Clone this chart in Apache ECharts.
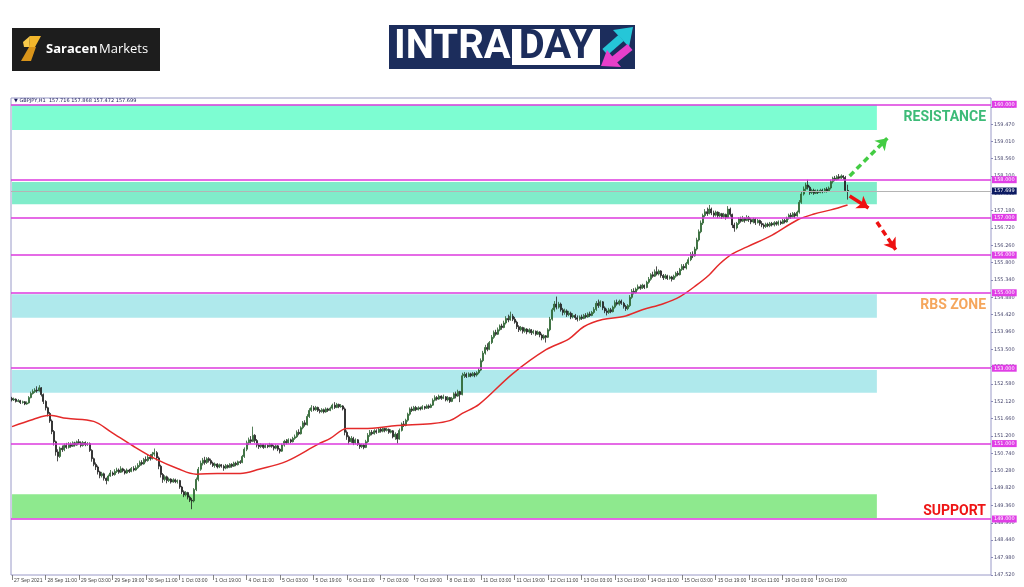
<!DOCTYPE html>
<html><head><meta charset="utf-8">
<script src="https://cdn.jsdelivr.net/npm/echarts@6.0.0/dist/echarts.min.js"></script>
<style>html,body{margin:0;padding:0;background:#fff}#c{width:1024px;height:587px}</style>
</head><body><div id="c"></div>
<script>
// ---------- DATA ----------
const headerText = '\u25BC GBPJPY,H1  157.716 157.868 157.472 157.699';
const firstOpen = 152.20;
// hourly candles: [close, low, high]; open = previous close
const candleCLH = [
[152.16,152.12,152.24],[152.18,152.13,152.22],[152.12,152.09,152.20],[152.14,152.10,152.18],[152.09,152.05,152.16],[152.11,152.06,152.14],[152.05,152.02,152.13],[152.08,152.03,152.12],[152.22,152.06,152.26],[152.33,152.20,152.38],
[152.38,152.30,152.44],[152.42,152.34,152.47],[152.40,152.35,152.52],[152.48,152.38,152.55],[152.30,152.25,152.50],[152.12,152.05,152.33],[151.95,151.88,152.15],[151.80,151.72,151.98],[151.60,151.55,151.84],[151.32,151.25,151.64],
[151.05,150.95,151.36],[150.78,150.68,151.08],[150.66,150.53,150.85],[150.88,150.62,150.92],[150.84,150.78,150.95],[150.95,150.80,151.00],[150.90,150.86,151.02],[150.98,150.87,151.04],[150.93,150.89,151.03],[151.02,150.91,151.06],
[150.96,150.92,151.05],[151.05,150.94,151.08],[151.02,150.98,151.12],[150.95,150.90,151.06],[151.03,150.92,151.07],[150.97,150.93,151.06],[151.00,150.94,151.04],[150.82,150.78,151.03],[150.60,150.52,150.85],[150.45,150.40,150.63],
[150.38,150.30,150.50],[150.25,150.18,150.42],[150.15,150.08,150.28],[150.20,150.10,150.25],[150.08,150.02,150.23],[150.02,149.92,150.10],[150.14,150.00,150.18],[150.22,150.12,150.30],[150.18,150.14,150.26],[150.26,150.15,150.32],
[150.30,150.22,150.36],[150.24,150.20,150.34],[150.33,150.22,150.40],[150.28,150.24,150.36],[150.22,150.18,150.32],[150.30,150.20,150.34],[150.26,150.22,150.33],[150.34,150.24,150.38],[150.30,150.26,150.40],[150.36,150.28,150.42],
[150.42,150.33,150.48],[150.50,150.38,150.55],[150.46,150.42,150.56],[150.58,150.44,150.62],[150.55,150.50,150.66],[150.64,150.52,150.70],[150.60,150.55,150.72],[150.72,150.58,150.78],[150.76,150.66,150.87],[150.62,150.55,150.80],
[150.40,150.32,150.66],[150.18,150.10,150.44],[150.05,149.96,150.22],[150.12,150.00,150.16],[150.02,149.95,150.15],[150.06,149.98,150.10],[149.98,149.94,150.08],[150.04,149.96,150.08],[149.99,149.95,150.07],[150.02,149.94,150.05],
[149.85,149.80,150.04],[149.72,149.66,149.88],[149.64,149.58,149.76],[149.70,149.60,149.74],[149.58,149.52,149.72],[149.50,149.45,149.62],[149.48,149.26,149.56],[149.78,149.44,149.82],[150.05,149.74,150.10],[150.32,150.00,150.38],
[150.48,150.28,150.55],[150.56,150.42,150.62],[150.50,150.44,150.65],[150.60,150.46,150.64],[150.55,150.50,150.64],[150.48,150.44,150.60],[150.42,150.38,150.52],[150.46,150.36,150.50],[150.38,150.34,150.48],[150.44,150.35,150.47],
[150.40,150.36,150.46],[150.35,150.28,150.44],[150.42,150.32,150.46],[150.37,150.34,150.45],[150.45,150.35,150.48],[150.40,150.36,150.48],[150.48,150.38,150.52],[150.44,150.40,150.52],[150.52,150.42,150.55],[150.50,150.46,150.56],
[150.66,150.48,150.70],[150.85,150.62,150.90],[151.02,150.80,151.08],[151.10,150.96,151.16],[151.06,151.00,151.20],[151.22,151.04,151.45],[151.08,151.02,151.25],[150.96,150.90,151.12],[150.92,150.86,151.00],[150.97,150.88,151.01],
[150.90,150.86,150.99],[150.95,150.88,150.99],[150.92,150.88,150.98],[150.98,150.90,151.02],[150.93,150.89,151.00],[150.88,150.82,150.96],[150.94,150.85,150.98],[150.85,150.80,150.96],[150.80,150.74,150.88],[150.96,150.78,151.00],
[151.06,150.92,151.10],[151.02,150.98,151.12],[151.10,151.00,151.14],[151.05,151.01,151.13],[151.14,151.03,151.18],[151.18,151.10,151.24],[151.30,151.15,151.35],[151.26,151.22,151.38],[151.42,151.24,151.46],[151.55,151.38,151.60],
[151.50,151.45,151.62],[151.72,151.48,151.78],[151.88,151.68,151.94],[151.95,151.84,152.02],[151.90,151.86,152.00],[151.96,151.87,152.00],[151.88,151.84,151.98],[151.85,151.80,151.92],[151.90,151.82,151.94],[151.84,151.80,151.93],
[151.92,151.82,151.96],[151.88,151.84,151.95],[151.94,151.86,151.98],[152.02,151.90,152.06],[151.96,151.92,152.10],[152.04,151.94,152.08],[151.98,151.94,152.06],[152.00,151.95,152.05],[151.92,151.88,152.02],[151.30,151.22,151.96],
[151.18,151.10,151.35],[151.05,150.98,151.22],[151.14,151.02,151.20],[151.02,150.96,151.18],[151.10,150.98,151.14],[150.98,150.94,151.12],[150.92,150.86,151.02],[150.96,150.88,151.00],[150.90,150.85,150.99],[151.05,150.88,151.10],
[151.22,151.02,151.28],[151.30,151.18,151.36],[151.26,151.22,151.36],[151.34,151.24,151.38],[151.30,151.26,151.38],[151.38,151.28,151.42],[151.33,151.29,151.42],[151.40,151.30,151.44],[151.35,151.30,151.42],[151.38,151.32,151.42],
[151.30,151.26,151.40],[151.34,151.27,151.38],[151.18,151.14,151.36],[151.25,151.10,151.30],[151.12,151.00,151.28],[151.35,151.10,151.40],[151.52,151.32,151.56],[151.48,151.44,151.60],[151.62,151.46,151.66],[151.78,151.58,151.82],
[151.92,151.74,151.96],[151.88,151.84,151.98],[151.96,151.86,152.00],[151.90,151.86,152.00],[151.95,151.88,151.99],[151.92,151.88,151.98],[151.98,151.90,152.02],[151.94,151.90,152.00],[152.00,151.92,152.04],[151.96,151.92,152.04],
[152.02,151.94,152.06],[152.15,152.00,152.20],[152.22,152.12,152.28],[152.18,152.14,152.26],[152.26,152.16,152.30],[152.20,152.16,152.28],[152.24,152.18,152.30],[152.16,152.12,152.26],[152.22,152.12,152.26],[152.12,152.08,152.24],
[152.20,152.10,152.24],[152.32,152.18,152.36],[152.26,152.20,152.38],[152.38,152.24,152.43],[152.30,152.10,152.40],[152.80,152.28,152.88],[152.84,152.74,152.90],[152.78,152.74,152.88],[152.85,152.76,152.89],[152.80,152.76,152.88],
[152.86,152.78,152.90],[152.82,152.76,152.90],[152.88,152.78,152.92],[152.95,152.84,153.00],[153.20,152.92,153.26],[153.40,153.16,153.46],[153.55,153.36,153.62],[153.50,153.45,153.66],[153.68,153.48,153.72],[153.82,153.64,153.88],
[153.95,153.78,154.00],[153.90,153.86,154.02],[154.02,153.88,154.08],[154.12,153.98,154.16],[154.08,154.02,154.18],[154.20,154.06,154.26],[154.32,154.16,154.38],[154.28,154.22,154.42],[154.38,154.26,154.50],[154.30,154.25,154.44],
[154.22,154.18,154.36],[154.10,154.04,154.26],[154.02,153.96,154.14],[154.08,153.98,154.12],[153.98,153.92,154.10],[154.04,153.94,154.08],[153.96,153.90,154.06],[154.02,153.92,154.06],[153.94,153.88,154.04],[153.98,153.90,154.02],
[153.90,153.86,154.00],[153.96,153.88,154.00],[153.88,153.82,153.98],[153.80,153.74,153.92],[153.86,153.76,153.90],[153.82,153.68,153.88],[154.02,153.80,154.06],[154.30,153.98,154.36],[154.55,154.26,154.60],[154.70,154.50,154.78],
[154.62,154.56,154.90],[154.70,154.58,154.76],[154.55,154.50,154.74],[154.48,154.40,154.60],[154.52,154.42,154.58],[154.42,154.36,154.56],[154.46,154.38,154.52],[154.36,154.30,154.50],[154.40,154.32,154.46],[154.34,154.28,154.44],
[154.30,154.24,154.40],[154.36,154.26,154.40],[154.32,154.28,154.42],[154.40,154.30,154.44],[154.36,154.32,154.46],[154.44,154.34,154.48],[154.40,154.36,154.50],[154.48,154.38,154.52],[154.56,154.44,154.62],[154.72,154.52,154.78],
[154.66,154.60,154.82],[154.76,154.62,154.80],[154.60,154.54,154.78],[154.52,154.46,154.64],[154.48,154.40,154.58],[154.55,154.44,154.60],[154.50,154.46,154.60],[154.62,154.48,154.66],[154.74,154.58,154.80],[154.70,154.66,154.82],
[154.78,154.66,154.82],[154.72,154.68,154.82],[154.64,154.58,154.76],[154.58,154.52,154.68],[154.66,154.54,154.70],[154.88,154.62,154.94],[155.04,154.84,155.10],[155.00,154.96,155.12],[155.10,154.98,155.14],[155.16,155.06,155.22],
[155.12,155.08,155.22],[155.20,155.10,155.24],[155.14,155.10,155.22],[155.28,155.12,155.32],[155.36,155.24,155.42],[155.48,155.32,155.52],[155.44,155.40,155.56],[155.56,155.42,155.62],[155.50,155.46,155.70],[155.58,155.46,155.62],
[155.46,155.40,155.60],[155.40,155.34,155.50],[155.45,155.36,155.50],[155.38,155.34,155.48],[155.42,155.35,155.46],[155.36,155.30,155.45],[155.44,155.34,155.48],[155.52,155.40,155.56],[155.48,155.44,155.58],[155.62,155.46,155.66],
[155.70,155.58,155.76],[155.66,155.60,155.76],[155.78,155.62,155.82],[155.88,155.74,155.94],[156.02,155.84,156.08],[155.98,155.92,156.10],[156.16,155.96,156.22],[156.40,156.12,156.46],[156.62,156.36,156.68],[156.85,156.58,156.92],
[157.05,156.80,157.10],[157.15,157.00,157.22],[157.10,157.04,157.26],[157.22,157.08,157.33],[157.12,157.06,157.26],[157.06,157.00,157.18],[157.14,157.02,157.18],[157.04,156.98,157.16],[157.10,157.00,157.14],[157.02,156.96,157.12],
[157.08,156.98,157.12],[157.00,156.94,157.10],[157.22,156.98,157.30],[157.08,157.02,157.26],[156.80,156.72,157.10],[156.72,156.62,156.86],[156.84,156.68,156.88],[156.96,156.80,157.00],[156.90,156.86,157.02],[156.98,156.88,157.04],
[156.92,156.86,157.00],[157.00,156.90,157.06],[156.94,156.88,157.04],[156.88,156.82,156.98],[156.95,156.84,156.99],[156.86,156.80,156.98],[156.92,156.84,156.96],[156.84,156.78,156.94],[156.80,156.74,156.90],[156.76,156.70,156.84],
[156.82,156.72,156.86],[156.78,156.74,156.86],[156.84,156.74,156.88],[156.80,156.76,156.88],[156.86,156.76,156.90],[156.82,156.78,156.90],[156.88,156.78,156.92],[156.84,156.80,156.92],[156.92,156.82,156.96],[156.88,156.84,156.96],
[156.98,156.86,157.02],[157.06,156.94,157.10],[157.02,156.96,157.12],[157.10,157.00,157.14],[157.04,156.98,157.14],[157.14,157.02,157.18],[157.40,157.10,157.46],[157.62,157.36,157.68],[157.75,157.58,157.82],[157.86,157.70,157.92],
[157.80,157.74,158.00],[157.66,157.60,157.84],[157.72,157.62,157.76],[157.64,157.60,157.76],[157.70,157.62,157.74],[157.66,157.62,157.74],[157.72,157.64,157.76],[157.68,157.64,157.76],[157.75,157.66,157.78],[157.70,157.66,157.80],
[157.78,157.68,157.82],[157.95,157.74,158.00],[158.04,157.90,158.08],[158.00,157.96,158.10],[158.08,157.98,158.12],[158.04,158.00,158.15],[158.10,158.02,158.14],[158.06,158.00,158.12],[157.716,157.68,158.10],[157.699,157.472,157.868]
];
// red moving average, read at sample bars: [barIndex, value]
const maPoints = [
[0,151.45],[10,151.64],[18,151.75],[26,151.67],[39,151.59],[47,151.32],[58,150.93],[69,150.58],[79,150.34],[88,150.19],
[98,150.21],[109,150.21],[118,150.32],[131,150.53],[146,150.98],[152,151.14],[160,151.40],[168,151.40],[184,151.48],[200,151.53],
[209,151.61],[215,151.80],[223,152.04],[239,152.85],[255,153.49],[266,153.78],[273,154.10],[282,154.29],[292,154.37],[301,154.55],
[311,154.71],[319,154.90],[327,155.21],[333,155.48],[338,155.77],[344,156.03],[351,156.22],[363,156.53],[375,156.93],[383,157.09],
[391,157.20],[399,157.33]
];
const slotCount = 468;              // chart slots incl. right shift
const xTickStep = 16;
const xTickLabels = ['27 Sep 2021','28 Sep 11:00','29 Sep 03:00','29 Sep 19:00','30 Sep 11:00','1 Oct 03:00','1 Oct 19:00',
 '4 Oct 11:00','5 Oct 03:00','5 Oct 19:00','6 Oct 11:00','7 Oct 03:00','7 Oct 19:00','8 Oct 11:00','11 Oct 03:00','11 Oct 19:00',
 '12 Oct 11:00','13 Oct 03:00','13 Oct 19:00','14 Oct 11:00','15 Oct 03:00','15 Oct 19:00','18 Oct 11:00','19 Oct 03:00','19 Oct 19:00'];
const yTicks = [147.52,147.98,148.44,148.90,149.36,149.82,150.28,150.74,151.20,151.66,152.12,152.58,153.04,153.50,153.96,154.42,
 154.88,155.34,155.80,156.26,156.72,157.18,157.64,158.10,158.56,159.01,159.47,159.93];
const levelLines = [160, 158, 157, 156, 155, 153, 151, 149];
const lastClose = 157.699;
const zoneBounds = [[159.99,159.32],[157.94,157.35],[154.96,154.34],[152.95,152.35],[149.66,149.02]];
const zoneEndSlot = 413;
const greenArrow = [[400,158.10],[418,159.10]];
const redArrowA = [[400,157.57],[409,157.25]];
const redArrowB = [[413,156.88],[422,156.14]];
const zoneTexts = [['RESISTANCE',159.66],['RBS ZONE',154.65],['SUPPORT',149.20]];

// ---------- BUILD ----------
const ohlc = []; let prevClose = firstOpen;
for (const [c, l, h] of candleCLH) { ohlc.push([prevClose, c, l, h]); prevClose = c; }
const slots = Array.from({length: slotCount}, (_, i) => String(i));
const showTick = i => i % xTickStep === 0 && i / xTickStep < xTickLabels.length;
const zoneColors = ['#7dfdd2', '#80ecca', '#afe9ec', '#afe9ec', '#8ee98e'];
const zoneTextColors = ['#3dbb78', '#f5a65c', '#ee1414'];

const chart = echarts.init(document.getElementById('c'));
const Y0 = 147.515, Y1 = 160.167, GT = 98, GB = 575;
const yPix = v => GT + (Y1 - v) / (Y1 - Y0) * (GB - GT);

chart.setOption({
  animation: false,
  backgroundColor: '#ffffff',
  grid: { left: 11, right: 33, top: GT, bottom: 587 - GB, show: true, borderColor: '#9a9ac8', borderWidth: 1, backgroundColor: 'transparent' },
  xAxis: {
    type: 'category', data: slots, boundaryGap: true,
    axisLine: { show: false },
    axisTick: { show: true, interval: i => showTick(i), alignWithLabel: true, length: 5, lineStyle: { color: '#666', width: 0.8 } },
    axisLabel: { interval: i => showTick(i), formatter: (v, i) => xTickLabels[i / xTickStep] || '',
      fontSize: 5, color: '#444', align: 'left', margin: 3, padding: [0, 0, 0, 2], fontFamily: 'Liberation Sans' },
    splitLine: { show: false }
  },
  yAxis: {
    type: 'value', position: 'right', min: Y0, max: Y1,
    axisLine: { show: false },
    axisTick: { show: true, customValues: yTicks, length: 2, lineStyle: { color: '#8a8ab8' } },
    axisLabel: { customValues: yTicks, formatter: v => v.toFixed(3), fontSize: 5, color: '#4a4a70', margin: 3, fontFamily: 'DejaVu Sans' },
    splitLine: { show: false }
  },
  graphic: [
    { type: 'rect', shape: { x: 12, y: 28, width: 148, height: 43 }, style: { fill: '#1d1d1d' } },
    { type: 'polygon', shape: { points: [[30,36],[41,36],[35,47],[29,47]] }, style: { fill: '#f3b62b' } },
    { type: 'polygon', shape: { points: [[29,47],[36,47],[31,61],[21,61]] }, style: { fill: '#d9941a' } },
    { type: 'polygon', shape: { points: [[23,42],[30,36],[29,47],[24,47]] }, style: { fill: '#f7c94b' } },
    { type: 'text', x: 46, y: 49, style: { text: 'Saracen', font: 'bold 13px "Open Sans"', fill: '#ffffff', verticalAlign: 'middle' } },
    { type: 'text', x: 99, y: 49, style: { text: 'Markets', font: '13px "Open Sans"', fill: '#ffffff', verticalAlign: 'middle' } },
    { type: 'rect', shape: { x: 389, y: 25, width: 246, height: 44 }, style: { fill: '#1c2d5c' } },
    { type: 'text', x: 394, y: 48, style: { text: 'INTRA', font: 'bold 40px Roboto', fill: '#ffffff', verticalAlign: 'middle' } },
    { type: 'rect', shape: { x: 512, y: 29, width: 88, height: 36 }, style: { fill: '#ffffff' } },
    { type: 'text', x: 556, y: 48, style: { text: 'DAY', font: 'bold 40px Roboto', fill: '#1c2d5c', align: 'center', verticalAlign: 'middle' } },
    { type: 'polyline', shape: { points: [[605,52],[621,38]] }, style: { stroke: '#25c6d8', lineWidth: 8 } },
    { type: 'polygon', shape: { points: [[613,30],[633,27],[629,47]] }, style: { fill: '#25c6d8' } },
    { type: 'polyline', shape: { points: [[630,47],[614,60]] }, style: { stroke: '#e83fca', lineWidth: 8 } },
    { type: 'polygon', shape: { points: [[621,67],[601,66],[607,50]] }, style: { fill: '#e83fca' } },
    { type: 'text', x: 14, y: 101, style: { text: headerText, font: '5px "DejaVu Sans"', fill: '#1a1a5a', verticalAlign: 'middle' }, z: 100 },
    ...zoneTexts.map((t, k) => ({ type: 'text', x: 986, y: yPix(t[1]), z: 100,
      style: { text: t[0], font: 'bold 14px Roboto', fill: zoneTextColors[k], align: 'right', verticalAlign: 'middle' } }))
  ],
  series: [
    {
      type: 'candlestick', data: ohlc, barWidth: 1.5,
      itemStyle: { color: '#3f913f', color0: '#1f1f1f', borderColor: '#2a5e2e', borderColor0: '#1f1f1f', borderWidth: 0.8 },
      markArea: { silent: true, data: zoneBounds.map((z, k) => [
        { xAxis: 0, yAxis: z[0], itemStyle: { color: zoneColors[k], opacity: 1 } }, { xAxis: zoneEndSlot, yAxis: z[1] }]) },
      markLine: { silent: true, symbol: ['none', 'none'], animation: false,
        data: [
          ...levelLines.map(v => ({ yAxis: v, lineStyle: { color: '#dc3ade', width: 1.5, type: 'solid' },
            label: { position: 'end', distance: 1, formatter: v.toFixed(3), fontSize: 5, color: '#fff', backgroundColor: '#e03ee6', padding: [1, 2, 1, 2], fontFamily: 'DejaVu Sans' } })),
          { yAxis: lastClose, lineStyle: { color: '#b4b4b4', width: 1, type: 'solid' },
            label: { position: 'end', distance: 1, formatter: lastClose.toFixed(3), fontSize: 5, color: '#fff', backgroundColor: '#0c1a62', padding: [1, 2, 1, 2], fontFamily: 'DejaVu Sans' } }
        ] }
    },
    {
      type: 'line', data: maPoints, showSymbol: false, symbol: 'none', smooth: 0.35,
      lineStyle: { color: '#e42a2a', width: 1.5 }, z: 3,
      markLine: { silent: true, symbol: ['none', 'arrow'], symbolSize: 11, label: { show: false },
        data: [
          [{ coord: greenArrow[0], lineStyle: { color: '#43cc43', width: 3.5, type: [6, 4] } }, { coord: greenArrow[1] }],
          [{ coord: redArrowA[0], lineStyle: { color: '#ee1111', width: 3.5, type: 'solid' } }, { coord: redArrowA[1] }],
          [{ coord: redArrowB[0], lineStyle: { color: '#ee1111', width: 3.5, type: [6, 4] } }, { coord: redArrowB[1] }]
        ] }
    }
  ]
});
</script></body></html>
